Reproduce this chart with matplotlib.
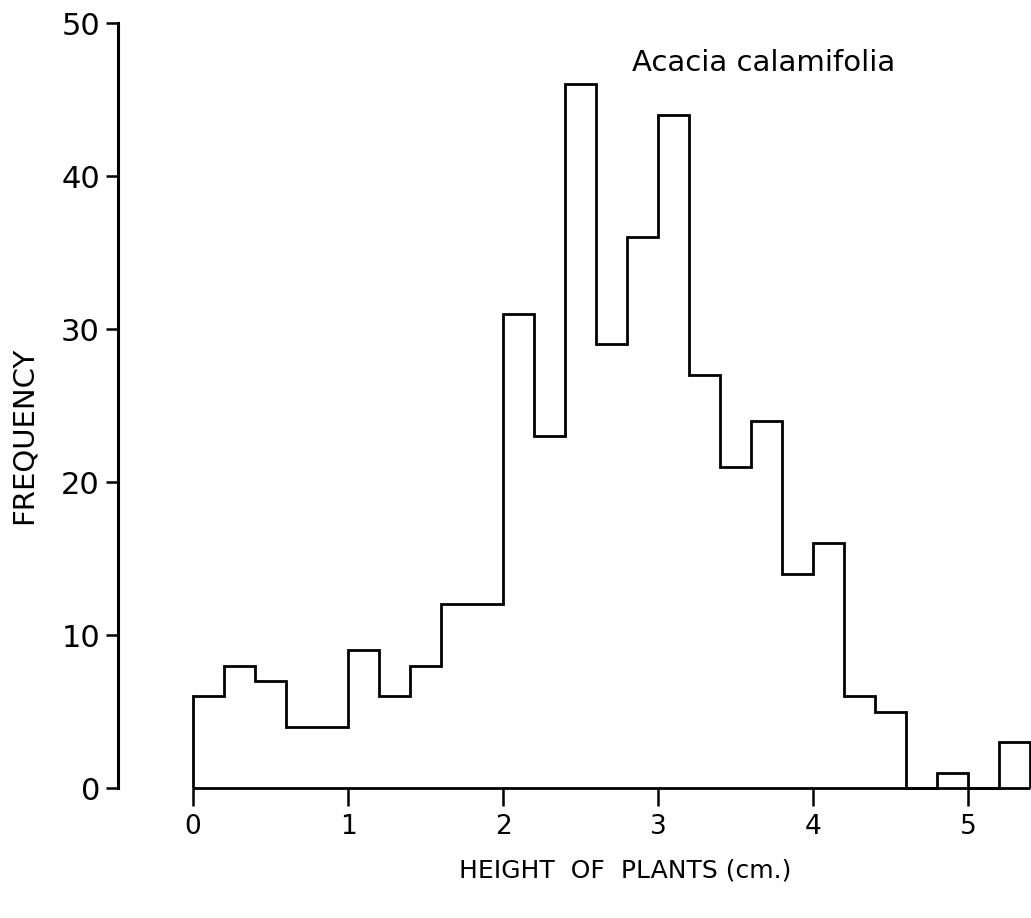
import numpy as np
import matplotlib
matplotlib.use('Agg')
import matplotlib.pyplot as plt

# height classes (cm) and number of plants in each class
bin_edges = [0.0, 0.2, 0.4, 0.6, 0.8, 1.0, 1.2, 1.4, 1.6, 1.8, 2.0,
             2.2, 2.4, 2.6, 2.8, 3.0, 3.2, 3.4, 3.6, 3.8, 4.0,
             4.2, 4.4, 4.6, 4.8, 5.0, 5.2, 5.4]
counts = [6, 8, 7, 4, 4, 9, 6, 8, 12, 12,
          31, 23, 46, 29, 36, 44, 27, 21, 24, 14,
          16, 6, 5, 0, 1, 0, 3]
x_ticks = [0, 1, 2, 3, 4, 5]
y_ticks = [0, 10, 20, 30, 40, 50]
species = "Acacia calamifolia"

plt.rcParams['font.family'] = ['DejaVu Sans']

fig = plt.figure(figsize=(10.31, 9.18), dpi=100)
ax = fig.add_axes([0.1145, 0.1416, 0.8855, 0.8333])

ax.stairs(counts, bin_edges, baseline=0, color='black',
          linewidth=2.0, clip_on=False)
ax.hlines(0, bin_edges[0], bin_edges[-1], color='black',
          linewidth=2.0, clip_on=False)

ax.set_xlim(-0.484, 5.406)
ax.set_ylim(0, 50)

for side in ['top', 'right', 'bottom']:
    ax.spines[side].set_visible(False)
ax.spines['left'].set_linewidth(2.2)

ax.set_xticks(x_ticks)
ax.set_yticks(y_ticks)
ax.tick_params(axis='x', direction='out', length=13, width=1.8,
               labelsize=19, pad=6)
ax.tick_params(axis='y', direction='out', length=9, width=1.8,
               labelsize=22, pad=4)

ax.set_xlabel("HEIGHT  OF  PLANTS (cm.)", fontsize=18, labelpad=13,
              x=0.556)
ax.set_ylabel("FREQUENCY", fontsize=21, labelpad=17, y=0.461)

ax.text(3.68, 47.4, species, fontsize=21, ha='center', va='center')

fig.savefig('out.png', dpi=100)
